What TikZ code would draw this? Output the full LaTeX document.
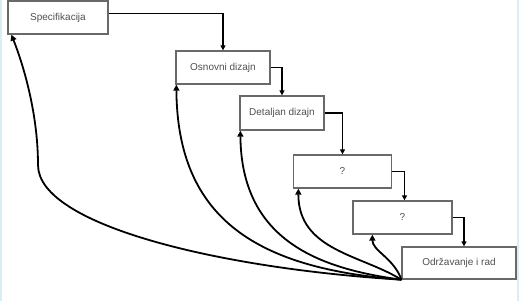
\documentclass[tikz,border=0pt]{standalone}
\usepackage{fontspec}
\setmainfont{Liberation Sans}
\usetikzlibrary{arrows.meta}
\definecolor{boxgray}{RGB}{105,105,105}
\definecolor{labelgray}{RGB}{80,80,80}
\definecolor{edgecyan}{RGB}{216,238,244}

\begin{document}
\begin{tikzpicture}[x=1pt,y=-1pt,
    phase/.style={draw=boxgray,line width=1.3pt,fill=white,inner sep=0pt,
      minimum height=33pt,font=\fontsize{10}{12}\selectfont,text=labelgray},
    flow/.style={-{Triangle[length=5pt,width=5pt]},line width=1.3pt},
    feedback/.style={-{Triangle[length=6pt,width=6pt]},line width=1.8pt}]
    % frame
    \useasboundingbox (0,0) rectangle (519,301);
    \fill[white] (0,0) rectangle (519,301);
    \fill[edgecyan] (0,0) rectangle (2,301);
    \fill[edgecyan] (516.5,0) rectangle (519,301);
    % the phases
    \node[phase,minimum width=100pt] (spec) at (58,17.5) {Specifikacija};
    \node[phase,minimum width=94pt] (osn) at (223,67.5) {Osnovni dizajn};
    \node[phase,minimum width=84pt,minimum height=34pt] (det) at (282,113) {Detaljan dizajn};
    \node[phase,minimum width=98pt] (q1) at (342.5,171.5) {?};
    \node[phase,minimum width=99pt] (q2) at (402.5,217.5) {?};
    \node[phase,minimum width=114pt,minimum height=32pt] (odr) at (459,263) {Održavanje i rad};
    % steps down
    \draw[flow] ([yshift=4pt]spec.east) -| (osn.north);
    \foreach \a/\b/\s in {osn/det/0, det/q1/0, q1/q2/2, q2/odr/5}
      \draw[flow] (\a.east) -| ([xshift=\s pt]\b.north);
    % feedback from the last phase
    \draw[feedback] (odr.south west) .. controls +(-182,-11) and +(0,60) .. (38,165)
      .. controls +(0,-55) and +(10,25) .. ([xshift=4pt]spec.south west);
    \draw[feedback] (odr.south west) .. controls +(-142,-11) and +(1,136) .. ([xshift=1pt]osn.south west);
    \draw[feedback] (odr.south west) .. controls +(-82,-11) and +(1,110) .. ([xshift=1pt]det.south west);
    \draw[feedback] (odr.south west) .. controls +(-40,-25) and +(0,62) .. ([xshift=5.5pt]q1.south west);
    \draw[feedback] (odr.south west) .. controls +(-7,-21) and +(0,16) .. ([xshift=20pt]q2.south west);
\end{tikzpicture}
\end{document}
